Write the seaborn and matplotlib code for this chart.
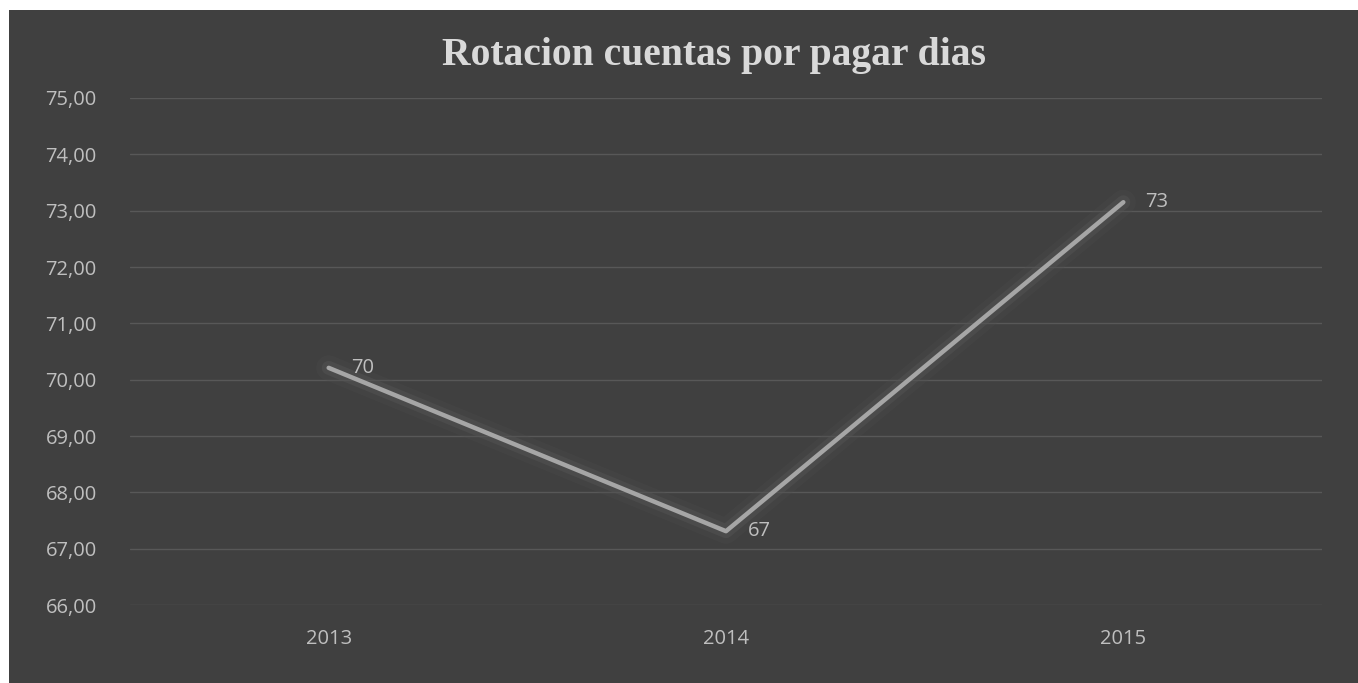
import matplotlib
matplotlib.use("Agg")
import matplotlib.pyplot as plt
import matplotlib.patheffects as pe
from matplotlib.patches import Rectangle
import seaborn as sns
import pandas as pd

# Datos
anios = ["2013", "2014", "2015"]
dias = [70.21, 67.31, 73.15]
etiquetas = ["70", "67", "73"]
ticks_y = [66, 67, 68, 69, 70, 71, 72, 73, 74, 75]

df = pd.DataFrame({"anio": anios, "dias": dias})

sns.set_theme(style="dark")
plt.rcParams["font.family"] = ["Open Sans", "DejaVu Sans"]

fondo = "#404040"
texto = "#bfbfbf"

fig = plt.figure(figsize=(13.58, 6.83), dpi=100)
fig.patch.set_facecolor("white")
fig.patches.append(Rectangle((9 / 1358, 0), 1, 1 - 10 / 683, transform=fig.transFigure,
                             facecolor=fondo, edgecolor="none", zorder=-10))

ax = fig.add_axes([130 / 1358, 78 / 683, 1192 / 1358, 507 / 683])
ax.set_facecolor(fondo)

sns.lineplot(data=df, x="anio", y="dias", ax=ax, color="#a6a6a6", linewidth=3.2,
             sort=False, solid_capstyle="round",
             path_effects=[pe.Stroke(linewidth=18, foreground="#4c4c4c", alpha=0.3),
                           pe.Stroke(linewidth=10, foreground="#555555", alpha=0.45),
                           pe.Normal()])

for i, (v, t) in enumerate(zip(dias, etiquetas)):
    ax.annotate(t, (i, v), xytext=(22, 0), textcoords="offset pixels",
                va="center", ha="left", fontsize=14.5, color=texto)

ax.set_xlim(-0.5, 2.5)
ax.set_ylim(66, 75)
ax.set_yticks(ticks_y)
ax.set_yticklabels([f"{v:.2f}".replace(".", ",") for v in ticks_y])
ax.grid(axis="y", color="#585858", linewidth=1)
ax.grid(axis="x", visible=False)
ax.tick_params(axis="both", colors=texto, labelsize=14.5, length=0)
ax.tick_params(axis="y", pad=24)
ax.tick_params(axis="x", pad=17)
for s in ax.spines.values():
    s.set_visible(False)
ax.set_xlabel("")
ax.set_ylabel("")

fig.text(714 / 1358, 1 - 55 / 683, "Rotacion cuentas por pagar dias", ha="center", va="center",
         fontsize=28.5, fontweight="bold", color="#d9d9d9", family=["Liberation Serif", "DejaVu Serif"])

fig.savefig("out.png", dpi=100, facecolor=fig.get_facecolor())
